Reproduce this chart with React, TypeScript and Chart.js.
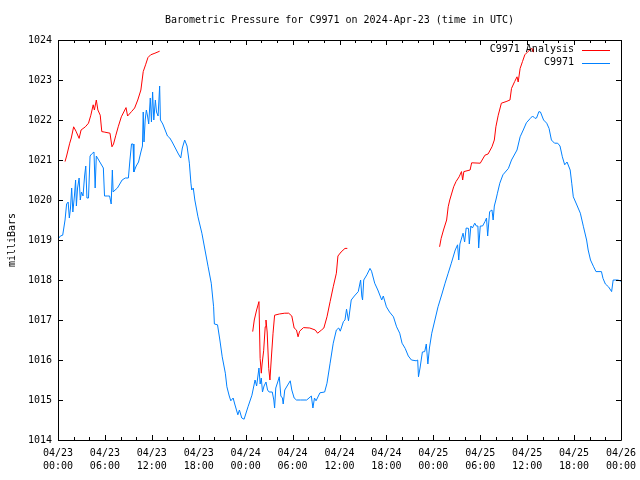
import React, { useEffect, useRef } from "react";
import { Chart, registerables } from "chart.js";

Chart.register(...registerables);

const TITLE = "Barometric Pressure for C9971 on 2024-Apr-23 (time in UTC)";
const Y_LABEL = "milliBars";
const SERIES_NAMES = ["C9971 Analysis", "C9971"];

// x tick labels (every 6 hours from 2024-04-23 00:00 UTC)
const tickDates = ["04/23", "04/23", "04/23", "04/23", "04/24", "04/24", "04/24", "04/24", "04/25", "04/25", "04/25", "04/25", "04/26"];
const tickTimes = ["00:00", "06:00", "12:00", "18:00", "00:00", "06:00", "12:00", "18:00", "00:00", "06:00", "12:00", "18:00", "00:00"];

// Observations (hours since 04/23 00:00 UTC, millibars)
const obsHours = [
  0.0, 0.3, 0.6, 0.9, 1.1, 1.3, 1.45, 1.6, 1.75, 1.9, 2.1, 2.25, 2.35, 2.5, 2.7, 2.85, 3.0, 3.2, 3.4, 3.55, 3.7, 3.9,
  4.1, 4.3, 4.6, 4.75, 4.9, 5.2, 5.5, 5.8, 5.95, 6.3, 6.6, 6.8, 6.95, 7.05, 7.3, 7.6, 7.9, 8.2, 8.6, 9.0, 9.2, 9.4,
  9.6, 9.7, 10.0, 10.3, 10.6, 10.8, 10.9, 11.0, 11.15, 11.3, 11.45, 11.6, 11.8, 11.95, 12.1, 12.25, 12.45, 12.6, 12.8,
  13.0, 13.1, 13.4, 13.7, 14.0, 14.3, 14.6, 15.0, 15.4, 15.7, 15.9, 16.2, 16.5, 16.8, 17.0, 17.1, 17.3, 17.5, 17.9,
  18.4, 18.8, 19.2, 19.6, 19.9, 20.0, 20.4, 20.7, 21.0, 21.4, 21.6, 21.9, 22.1, 22.4, 22.6, 23.0, 23.2, 23.5, 23.8,
  24.3, 24.8, 25.2, 25.4, 25.7, 25.85, 26.0, 26.15, 26.35, 26.6, 26.8, 27.0, 27.4, 27.6, 27.7, 27.85, 28.1, 28.3,
  28.5, 28.7, 28.8, 29.0, 29.3, 29.7, 29.9, 30.2, 30.5, 31.0, 31.8, 32.1, 32.4, 32.6, 32.8, 33.0, 33.5, 34.1, 34.4,
  34.8, 35.2, 35.6, 35.9, 36.1, 36.5, 36.7, 36.9, 37.15, 37.5, 37.9, 38.4, 38.7, 38.85, 38.95, 39.1, 39.5, 39.9,
  40.1, 40.5, 40.9, 41.2, 41.4, 41.6, 42.0, 42.4, 42.9, 43.3, 43.7, 44.0, 44.4, 44.8, 45.2, 45.8, 46.0, 46.1, 46.3,
  46.6, 46.9, 47.1, 47.3, 47.5, 47.8, 48.2, 48.6, 49.1, 49.5, 49.9, 50.3, 50.8, 51.1, 51.25, 51.4, 51.8, 52.0, 52.2,
  52.5, 52.6, 52.8, 53.0, 53.3, 53.5, 53.7, 53.8, 54.0, 54.3, 54.6, 54.8, 54.95, 55.2, 55.5, 55.65, 55.8, 56.0, 56.2,
  56.5, 56.9, 57.6, 58.0, 58.7, 59.1, 59.5, 59.9, 60.4, 60.7, 61.0, 61.2, 61.5, 61.7, 62.1, 62.5, 62.8, 63.1, 63.5,
  63.9, 64.2, 64.5, 64.8, 65.1, 65.5, 65.7, 65.9, 66.3, 66.8, 67.2, 67.6, 67.8, 68.1, 68.5, 68.8, 69.5, 69.7, 70.0,
  70.4, 70.8, 71.0, 71.6, 72.0,
];
const obsMb = [
  1019.02, 1019.1, 1019.12, 1019.5, 1019.9, 1019.95, 1019.55, 1019.8, 1020.3, 1019.7, 1020.1, 1020.5, 1019.85, 1020.3,
  1020.55, 1020.0, 1020.2, 1020.1, 1020.6, 1020.85, 1020.05, 1020.05, 1021.1, 1021.15, 1021.2, 1020.3, 1021.1, 1021.0,
  1020.9, 1020.8, 1020.1, 1020.1, 1020.1, 1019.9, 1020.75, 1020.2, 1020.25, 1020.3, 1020.4, 1020.5, 1020.55, 1020.55,
  1021.0, 1021.4, 1021.4, 1020.7, 1020.85, 1020.95, 1021.2, 1021.35, 1022.2, 1021.45, 1022.0, 1022.25, 1022.1, 1021.9,
  1022.55, 1021.95, 1022.7, 1022.0, 1022.5, 1022.2, 1022.1, 1022.85, 1022.0, 1021.9, 1021.75, 1021.6, 1021.55, 1021.45,
  1021.3, 1021.15, 1021.05, 1021.3, 1021.5, 1021.35, 1020.92, 1020.42, 1020.25, 1020.3, 1020.0, 1019.58, 1019.17,
  1018.75, 1018.33, 1017.92, 1017.33, 1016.9, 1016.88, 1016.5, 1016.08, 1015.67, 1015.33, 1015.1, 1014.98, 1015.05,
  1014.9, 1014.63, 1014.75, 1014.55, 1014.52, 1014.83, 1015.12, 1015.5, 1015.35, 1015.8, 1015.4, 1015.55, 1015.2,
  1015.35, 1015.45, 1015.25, 1015.2, 1015.2, 1015.0, 1014.8, 1015.3, 1015.45, 1015.58, 1015.1, 1015.05, 1014.9,
  1015.25, 1015.35, 1015.48, 1015.25, 1015.05, 1015.0, 1015.0, 1015.0, 1015.05, 1015.1, 1014.8, 1015.05, 1014.98,
  1015.18, 1015.2, 1015.42, 1015.92, 1016.42, 1016.75, 1016.8, 1016.72, 1016.96, 1017.0, 1017.27, 1016.98, 1017.5,
  1017.6, 1017.71, 1018.0, 1017.6, 1017.5, 1018.0, 1018.13, 1018.29, 1018.22, 1017.92, 1017.75, 1017.6, 1017.5,
  1017.6, 1017.33, 1017.2, 1017.08, 1016.83, 1016.67, 1016.42, 1016.29, 1016.1, 1016.0, 1015.98, 1016.0, 1015.58,
  1015.8, 1016.2, 1016.21, 1016.4, 1015.9, 1016.3, 1016.67, 1017.0, 1017.33, 1017.65, 1017.92, 1018.17, 1018.42,
  1018.75, 1018.88, 1018.5, 1018.9, 1019.17, 1018.95, 1019.3, 1019.29, 1018.9, 1019.35, 1019.3, 1019.42, 1019.35,
  1019.35, 1018.8, 1019.35, 1019.35, 1019.46, 1019.55, 1019.1, 1019.71, 1019.75, 1019.5, 1019.85, 1020.0, 1020.17,
  1020.42, 1020.63, 1020.79, 1021.0, 1021.25, 1021.58, 1021.75, 1021.93, 1022.04, 1022.1, 1022.04, 1022.05, 1022.21,
  1022.2, 1022.0, 1021.92, 1021.79, 1021.5, 1021.42, 1021.42, 1021.35, 1021.08, 1020.88, 1020.95, 1020.75, 1020.42,
  1020.08, 1019.9, 1019.67, 1019.33, 1019.0, 1018.75, 1018.5, 1018.33, 1018.21, 1018.21, 1018.04, 1017.9, 1017.83,
  1017.71, 1018.0, 1018.0, 1017.97,
];

// Analysis (null marks a gap between analysis runs)
const analysisHours = [
  0.9, 1.1, 1.5, 1.7, 2.0, 2.3, 2.7, 2.95, 3.5, 3.9, 4.2, 4.5, 4.65, 4.9, 5.1, 5.4, 5.6, 5.9, 6.65, 6.9, 7.1, 7.4, 7.7,
  8.1, 8.7, 8.9, 9.4, 9.8, 10.2, 10.6, 10.9, 11.2, 11.5, 11.85, 12.4, 13.0,
  18.0,
  24.9, 25.1, 25.4, 25.7, 25.85, 26.0, 26.1, 26.3, 26.5, 26.6, 26.75, 26.95, 27.1, 27.3, 27.5, 27.7, 28.3, 29.0, 29.5,
  29.9, 30.2, 30.5, 30.7, 30.9, 31.4, 32.2, 32.9, 33.2, 33.7, 34.0, 34.4, 34.8, 35.2, 35.6, 35.8, 36.2, 36.7, 37.0,
  42.0,
  48.8, 49.0, 49.3, 49.7, 49.9, 50.1, 50.6, 50.9, 51.3, 51.6, 51.75, 51.9, 52.7, 52.9, 54.0, 54.6, 55.0, 55.5, 55.8,
  56.0, 56.3, 56.7, 57.3, 57.8, 58.0, 58.4, 58.7, 58.85, 59.1, 59.4, 59.7, 60.1, 60.6, 60.75, 60.8,
];
const analysisMb = [
  1020.96, 1021.1, 1021.42, 1021.55, 1021.83, 1021.72, 1021.54, 1021.75, 1021.83, 1021.92, 1022.12, 1022.38, 1022.25,
  1022.5, 1022.25, 1022.12, 1021.71, 1021.7, 1021.67, 1021.33, 1021.4, 1021.62, 1021.83, 1022.08, 1022.31, 1022.1,
  1022.21, 1022.3, 1022.5, 1022.75, 1023.21, 1023.38, 1023.56, 1023.63, 1023.67, 1023.72,
  null,
  1016.71, 1017.0, 1017.25, 1017.46, 1016.04, 1015.67, 1015.9, 1016.23, 1016.83, 1017.0, 1016.7, 1015.79, 1015.5,
  1016.1, 1016.67, 1017.12, 1017.15, 1017.17, 1017.17, 1017.1, 1016.8, 1016.75, 1016.58, 1016.72, 1016.81, 1016.8,
  1016.75, 1016.67, 1016.75, 1016.8, 1017.08, 1017.46, 1017.83, 1018.17, 1018.6, 1018.7, 1018.79, 1018.79,
  null,
  1018.83, 1019.04, 1019.25, 1019.5, 1019.83, 1020.0, 1020.33, 1020.46, 1020.58, 1020.71, 1020.5, 1020.71, 1020.75,
  1020.93, 1020.92, 1021.12, 1021.15, 1021.33, 1021.5, 1021.83, 1022.12, 1022.42, 1022.46, 1022.5, 1022.79, 1022.96,
  1023.08, 1022.95, 1023.29, 1023.46, 1023.63, 1023.71, 1023.79, 1023.7, 1023.79,
];

const RED = "#ff0000";
const BLUE = "#0080ff";
const FONT = "DejaVu Sans Mono";

const frame = {
  id: "gnuFrame",
  afterDatasetsDraw(chart: any) {
    const { ctx, chartArea: a, scales } = chart;
    const xs = scales.x;
    const ys = scales.y;
    ctx.save();
    ctx.strokeStyle = "#000";
    ctx.lineWidth = 1;
    ctx.beginPath();
    ctx.rect(a.left + 0.5, a.top + 0.5, a.right - a.left, a.bottom - a.top);
    ctx.stroke();
    ctx.beginPath();
    for (let h = 0; h <= 72; h += 2) {
      const px = Math.round(xs.getPixelForValue(h)) + 0.5;
      const len = h % 6 === 0 ? 5 : 3;
      ctx.moveTo(px, a.bottom);
      ctx.lineTo(px, a.bottom - len);
      ctx.moveTo(px, a.top);
      ctx.lineTo(px, a.top + len);
    }
    for (let v = 1014; v <= 1024; v += 1) {
      const py = Math.round(ys.getPixelForValue(v)) + 0.5;
      ctx.moveTo(a.left, py);
      ctx.lineTo(a.left + 5, py);
      ctx.moveTo(a.right, py);
      ctx.lineTo(a.right - 5, py);
    }
    ctx.stroke();
    ctx.restore();
  },
  afterDraw(chart: any) {
    const { ctx, chartArea: a } = chart;
    ctx.save();
    ctx.fillStyle = "#000";
    ctx.font = `10px "${FONT}"`;
    ctx.textBaseline = "middle";
    ctx.textAlign = "center";
    ctx.fillText(TITLE, (a.left + a.right) / 2, 20.5);
    // y label
    ctx.save();
    ctx.translate(12, (a.top + a.bottom) / 2);
    ctx.rotate(-Math.PI / 2);
    ctx.fillText(Y_LABEL, 0, 0);
    ctx.restore();
    // legend
    ctx.textAlign = "right";
    const colors = [RED, BLUE];
    SERIES_NAMES.forEach((name, i) => {
      const y = 49.5 + i * 13;
      ctx.fillStyle = "#000";
      ctx.fillText(name, 574, y);
      ctx.strokeStyle = colors[i];
      ctx.lineWidth = 1;
      ctx.beginPath();
      ctx.moveTo(582, Math.round(y) + 0.5);
      ctx.lineTo(610, Math.round(y) + 0.5);
      ctx.stroke();
    });
    ctx.restore();
  },
};

export default function App() {
  const ref = useRef<HTMLCanvasElement | null>(null);
  useEffect(() => {
    if (!ref.current) return;
    const chart = new Chart(ref.current, {
      type: "line",
      data: {
        datasets: [
          {
            label: SERIES_NAMES[0],
            data: analysisHours.map((h, i) => ({ x: h, y: analysisMb[i] })),
            borderColor: RED,
            borderWidth: 1,
            pointRadius: 0,
            tension: 0,
            spanGaps: false,
          },
          {
            label: SERIES_NAMES[1],
            data: obsHours.map((h, i) => ({ x: h, y: obsMb[i] })),
            borderColor: BLUE,
            borderWidth: 1,
            pointRadius: 0,
            tension: 0,
          },
        ],
      },
      options: {
        animation: false,
        responsive: false,
        devicePixelRatio: 1,
        layout: { padding: { top: 40, right: 19, bottom: 0, left: 0 } },
        plugins: { legend: { display: false }, title: { display: false }, tooltip: { enabled: false } },
        scales: {
          x: {
            type: "linear",
            min: 0,
            max: 72,
            grid: { display: false, drawTicks: false },
            border: { display: false },
            afterFit: (s: any) => {
              s.height = 40;
              s.paddingLeft = 0;
              s.paddingRight = 0;
            },
            afterBuildTicks: (s: any) => {
              s.ticks = tickDates.map((_, i) => ({ value: i * 6 }));
            },
            ticks: {
              autoSkip: false,
              maxRotation: 0,
              minRotation: 0,
              padding: 7,
              color: "#000",
              font: { family: FONT, size: 10, lineHeight: 1.3 },
              callback: (v: any) => {
                const i = Math.round(Number(v) / 6);
                return [tickDates[i], tickTimes[i]];
              },
            },
          },
          y: {
            type: "linear",
            min: 1014,
            max: 1024,
            grid: { display: false, drawTicks: false },
            border: { display: false },
            afterFit: (s: any) => {
              s.width = 58;
              s.paddingTop = 0;
              s.paddingBottom = 0;
            },
            ticks: {
              stepSize: 1,
              padding: 6,
              color: "#000",
              font: { family: FONT, size: 10 },
              callback: (v: any) => String(v),
            },
          },
        },
      },
      plugins: [frame],
    });
    return () => chart.destroy();
  }, []);
  return (
    <div style={{ position: "absolute", left: 0, top: 0, width: 640, height: 480, background: "#fff" }}>
      <canvas ref={ref} width={640} height={480} />
    </div>
  );
}
